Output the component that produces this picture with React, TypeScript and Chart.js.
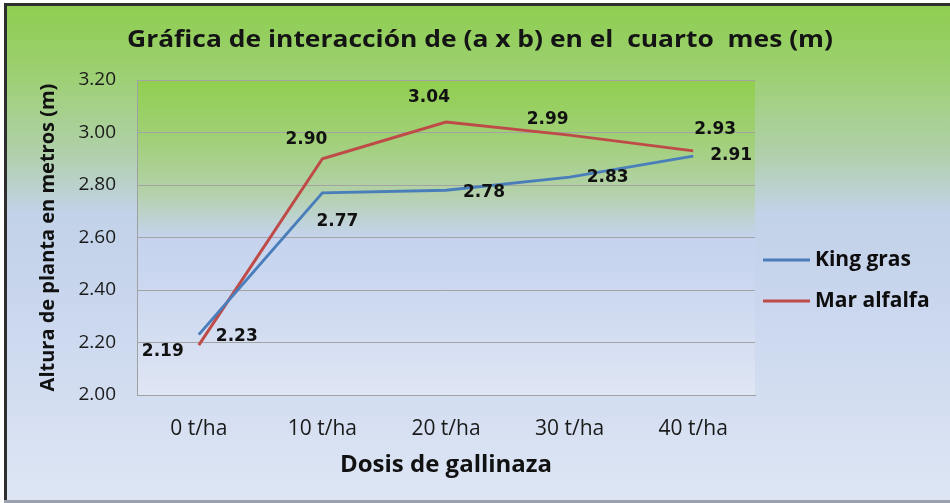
import React, { useEffect, useRef } from "react";
import { Chart, registerables } from "chart.js";

Chart.register(...registerables);

const categories = ["0 t/ha", "10 t/ha", "20 t/ha", "30 t/ha", "40 t/ha"];
const seriesNames = ["King gras", "Mar alfalfa"];
const kingGras = [2.23, 2.77, 2.78, 2.83, 2.91];
const marAlfalfa = [2.19, 2.9, 3.04, 2.99, 2.93];
const yTicks = [2.0, 2.2, 2.4, 2.6, 2.8, 3.0, 3.2];

const chartTitle = "Gráfica de interacción de (a x b) en el  cuarto  mes (m)";
const xTitle = "Dosis de gallinaza";
const yTitle = "Altura de planta en metros (m)";

const colors = ["#4a7ebb", "#be4b48"];

// label offsets (px) relative to each point, per series
const labelOffsets = [
  [[38, 2], [15, 29], [38, 2], [38, 0], [38, -1]],
  [[-36, 6], [-16, -19], [-17, -24], [-22, -16], [22, -21]],
];

const bgPlugin = {
  id: "bgPlugin",
  beforeDraw(chart: any) {
    const { ctx, chartArea } = chart;
    ctx.save();
    ctx.fillStyle = "#ffffff";
    ctx.fillRect(0, 0, chart.width, chart.height);
    const g = ctx.createLinearGradient(0, 4, 0, 501);
    g.addColorStop(0, "#8ece50");
    g.addColorStop(0.14, "#9dd072");
    g.addColorStop(0.3, "#b0d0aa");
    g.addColorStop(0.42, "#c2d2e8");
    g.addColorStop(0.6, "#c9d6ee");
    g.addColorStop(1, "#dee6f4");
    ctx.fillStyle = g;
    ctx.fillRect(5, 4, 960, 497);
    ctx.fillStyle = "#2e2e2e";
    ctx.fillRect(4, 3, 960, 3);
    ctx.fillRect(4, 3, 3, 498);
    ctx.fillStyle = "#9aa3ad";
    ctx.fillRect(4, 500, 960, 3);
    const { left, top, right, bottom } = chartArea;
    const pg = ctx.createLinearGradient(0, top, 0, bottom);
    pg.addColorStop(0, "#91cf4f");
    pg.addColorStop(0.2, "#a2d07b");
    pg.addColorStop(0.36, "#b4d1ab");
    pg.addColorStop(0.5, "#c5d3ee");
    pg.addColorStop(0.7, "#cdd9f0");
    pg.addColorStop(1, "#dfe6f4");
    ctx.fillStyle = pg;
    ctx.fillRect(left, top, right - left, bottom - top);
    ctx.restore();
  },
  afterDraw(chart: any) {
    const { ctx } = chart;
    ctx.save();
    ctx.fillStyle = "#141414";
    ctx.font = "bold 23px 'Open Sans'";
    ctx.textAlign = "center";
    ctx.textBaseline = "middle";
    const w = ctx.measureText(chartTitle).width;
    const sx = 706 / w;
    ctx.translate(480, 40);
    ctx.scale(sx, 1);
    ctx.fillText(chartTitle, 0, 0);
    ctx.restore();

    ctx.save();
    const legendY = [260, 301];
    chart.data.datasets.forEach((ds: any, i: number) => {
      ctx.strokeStyle = ds.borderColor;
      ctx.lineWidth = 3;
      ctx.beginPath();
      ctx.moveTo(763, legendY[i]);
      ctx.lineTo(810, legendY[i]);
      ctx.stroke();
      ctx.fillStyle = "#0d0d0d";
      ctx.font = "bold 21px 'Open Sans'";
      ctx.textAlign = "left";
      ctx.textBaseline = "middle";
      ctx.fillText(ds.label, 815, legendY[i]);
    });
    ctx.restore();
  },
  afterDatasetsDraw(chart: any) {
    const { ctx } = chart;
    ctx.save();
    ctx.font = "bold 17px 'DejaVu Sans'";
    ctx.fillStyle = "#111111";
    ctx.textAlign = "center";
    ctx.textBaseline = "middle";
    chart.data.datasets.forEach((ds: any, i: number) => {
      const meta = chart.getDatasetMeta(i);
      meta.data.forEach((pt: any, j: number) => {
        const off = labelOffsets[i][j];
        ctx.fillText(Number(ds.data[j]).toFixed(2), pt.x + off[0], pt.y + off[1]);
      });
    });
    ctx.restore();
  },
};

export default function App() {
  const ref = useRef<HTMLCanvasElement | null>(null);
  useEffect(() => {
    if (!ref.current) return;
    const chart = new Chart(ref.current, {
      type: "line",
      data: {
        labels: categories,
        datasets: [
          {
            label: seriesNames[0],
            data: kingGras,
            borderColor: colors[0],
            backgroundColor: colors[0],
            borderWidth: 3,
            pointRadius: 0,
            tension: 0,
          },
          {
            label: seriesNames[1],
            data: marAlfalfa,
            borderColor: colors[1],
            backgroundColor: colors[1],
            borderWidth: 3,
            pointRadius: 0,
            tension: 0,
          },
        ],
      },
      options: {
        animation: false,
        responsive: false,
        layout: { padding: { top: 80, right: 195, bottom: 0, left: 0 } },
        plugins: {
          legend: { display: false },
          title: { display: false },
          tooltip: { enabled: false },
        },
        scales: {
          x: {
            offset: true,
            grid: { display: false, drawTicks: false },
            border: { display: true, color: "#a0a0a0", width: 1 },
            ticks: {
              padding: 21,
              color: "#1a1a1a",
              font: { family: "'Open Sans'", size: 21 },
            },
            title: {
              display: true,
              text: xTitle,
              color: "#111111",
              font: { family: "'Open Sans'", size: 24, weight: "bold" },
              padding: { top: 0, bottom: 23 },
            },
            afterFit(scale: any) {
              scale.height = 108;
            },
          },
          y: {
            min: 2,
            max: 3.2,
            afterBuildTicks(scale: any) {
              scale.ticks = yTicks.map((v) => ({ value: v }));
            },
            grid: { color: "#a3a3a3", lineWidth: 1, drawTicks: false },
            border: { display: true, color: "#a0a0a0", width: 1 },
            ticks: {
              padding: 21,
              color: "#1a1a1a",
              font: { family: "'Open Sans'", size: 19 },
              callback: (v: any) => Number(v).toFixed(2),
            },
            title: {
              display: true,
              text: yTitle,
              color: "#111111",
              font: { family: "'Open Sans'", size: 20, weight: "bold" },
              padding: { top: 36, bottom: 0 },
            },
            afterFit(scale: any) {
              scale.width = 137;
            },
          },
        },
      },
      plugins: [bgPlugin],
    });
    return () => chart.destroy();
  }, []);
  return (
    <div style={{ position: "absolute", left: 0, top: 0, width: 950, height: 503 }}>
      <canvas ref={ref} width={950} height={503} style={{ display: "block" }} />
    </div>
  );
}
